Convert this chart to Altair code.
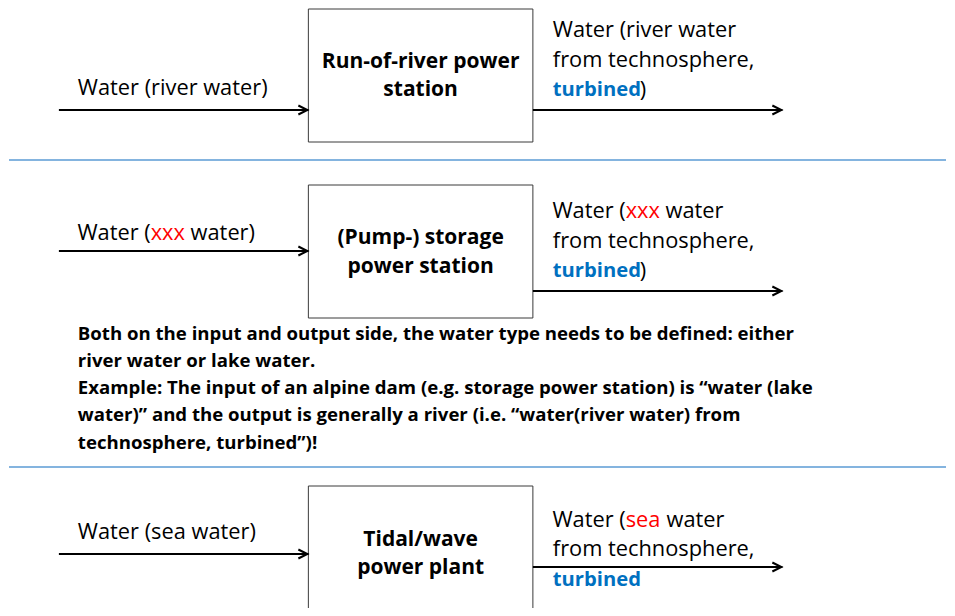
import altair as alt
import pandas as pd

# ---- content ----
box_titles = [["Run-of-river power", "station"],
              ["(Pump-) storage", "power station"],
              ["Tidal/wave", "power plant"]]

# input labels: (before, coloured word, after)
in_before = ["Water (river water)", "Water (", "Water (sea water)"]
in_word = ["", "xxx", ""]
in_after = ["", "water)", ""]

# output labels, first line split the same way
out_before = ["Water (river water", "Water (", "Water ("]
out_word = ["", "xxx", "sea"]
out_after = ["", "water", "water"]
out_second = ["from technosphere,", "from technosphere,", "from technosphere,"]
out_blue = ["turbined", "turbined", "turbined"]
out_close = [")", ")", ""]

note_lines = [
    "Both on the input and output side, the water type needs to be defined: either",
    "river water or lake water.",
    "Example: The input of an alpine dam (e.g. storage power station) is  \u201cwater (lake",
    "water)\u201d and the output is generally a river (i.e. \u201cwater(river water) from",
    "technosphere, turbined\u201d)!",
]

# ---- layout (page pixel coordinates) ----
in_text_x, out_text_x = 77, 553
in_word_x = [0, 150, 0]            # where the coloured word starts
in_after_x = [0, 190, 0]
out_word_x = [0, 626, 626]
out_after_x = [0, 666, 667]
close_x = 640
in_text_y = [88, 233, 532]
out_line_y = [[30, 60, 90], [211, 241, 271], [520, 549, 580]]

box_x, box_x2 = 308, 533
box_y = [9, 185, 486]
box_y2 = [142, 318, 640]
title_y = [[62, 90], [238, 267], [540, 568]]
note_y = [334, 361, 388, 415, 443]
in_y = [110, 251, 554]
out_y = [110, 291, 567]
sep_y = [160, 467]

BLACK, RED, BLUE = "#000000", "#FF0000", "#0070C0"
FONT = "Open Sans"

xs = alt.Scale(domain=[8, 947], nice=False, zero=False)
ys = alt.Scale(domain=[8, 608], nice=False, zero=False, reverse=True)

def X(f="x"):
    return alt.X(f + ":Q", scale=xs, axis=None)

def Y(f="y"):
    return alt.Y(f + ":Q", scale=ys, axis=None)

left_rows, right_rows = [], []
def add_line(before, word, after, x0, xw, xa, y):
    if word:
        right_rows.append({"text": before, "x": xw, "y": y, "color": BLACK})
        left_rows.append({"text": word, "x": xw, "y": y, "color": RED})
        left_rows.append({"text": after, "x": xa, "y": y, "color": BLACK})
    else:
        left_rows.append({"text": before, "x": x0, "y": y, "color": BLACK})

for i in range(3):
    add_line(in_before[i], in_word[i], in_after[i], in_text_x, in_word_x[i], in_after_x[i], in_text_y[i])
    add_line(out_before[i], out_word[i], out_after[i], out_text_x, out_word_x[i], out_after_x[i],
             out_line_y[i][0])
    add_line(out_second[i], "", "", out_text_x, 0, 0, out_line_y[i][1])
    if out_close[i]:
        left_rows.append({"text": out_close[i], "x": close_x, "y": out_line_y[i][2], "color": BLACK})
segs_left = pd.DataFrame(left_rows)
segs_right = pd.DataFrame(right_rows)

blue = pd.DataFrame({"text": out_blue, "x": [out_text_x] * 3, "y": [l[2] for l in out_line_y]})

seps = pd.DataFrame({"x": [8] * len(sep_y), "x2": [947] * len(sep_y), "y": sep_y})
boxes = pd.DataFrame({"x": [box_x] * 3, "x2": [box_x2] * 3, "y": box_y, "y2": box_y2})
arrows = pd.DataFrame({
    "x": [58] * 3 + [box_x2] * 3,
    "x2": [box_x] * 3 + [783] * 3,
    "y": in_y + out_y,
})
heads = pd.DataFrame({"x": [box_x - 1] * 3 + [782] * 3, "y": in_y + out_y})

titles = pd.DataFrame([{"text": t, "x": (box_x + box_x2) / 2, "y": yy}
                       for lines, ys_ in zip(box_titles, title_y)
                       for t, yy in zip(lines, ys_)])
notes = pd.DataFrame({"text": note_lines, "x": [77] * len(note_lines), "y": note_y})

sep_layer = alt.Chart(seps).mark_rule(color="#5B9BD5", strokeWidth=1.3).encode(
    x=X(), x2="x2", y=Y())
box_layer = alt.Chart(boxes).mark_rect(fill="white", stroke="#3a3a3a", strokeWidth=1, clip=True).encode(
    x=X(), x2="x2", y=Y(), y2="y2")
arrow_layer = alt.Chart(arrows).mark_rule(color="black", strokeWidth=2).encode(
    x=X(), x2="x2", y=Y())
head_layer = alt.Chart(heads).mark_point(
    shape="M -2 -1 L 0 0 L -2 1", size=81, filled=False, color="black",
    strokeWidth=2, opacity=1).encode(x=X(), y=Y())

left_layer = alt.Chart(segs_left).mark_text(
    align="left", baseline="middle", font=FONT, fontSize=21.8).encode(
    x=X(), y=Y(), text="text:N", color=alt.Color("color:N", scale=None))
right_layer = alt.Chart(segs_right).mark_text(
    align="right", baseline="middle", font=FONT, fontSize=21.8).encode(
    x=X(), y=Y(), text="text:N", color=alt.Color("color:N", scale=None))
bold_layer = alt.Chart(blue).mark_text(
    align="left", baseline="middle", font=FONT, fontSize=20.2, fontWeight="bold", color=BLUE).encode(
    x=X(), y=Y(), text="text:N")
title_layer = alt.Chart(titles).mark_text(
    align="center", baseline="middle", font=FONT, fontSize=21, fontWeight="bold", color="black").encode(
    x=X(), y=Y(), text="text:N")
note_layer = alt.Chart(notes).mark_text(
    align="left", baseline="middle", font=FONT, fontSize=18.6, fontWeight="bold", color="black").encode(
    x=X(), y=Y(), text="text:N")

chart = alt.layer(sep_layer, box_layer, arrow_layer, head_layer,
                  left_layer, right_layer, bold_layer, title_layer, note_layer).properties(
    width=939, height=600, padding=0,
    autosize=alt.AutoSizeParams(type="fit", contains="padding"),
    background="white",
).configure_view(stroke=None)

chart.save("out.html", embed_options={"renderer": "svg", "actions": False})
